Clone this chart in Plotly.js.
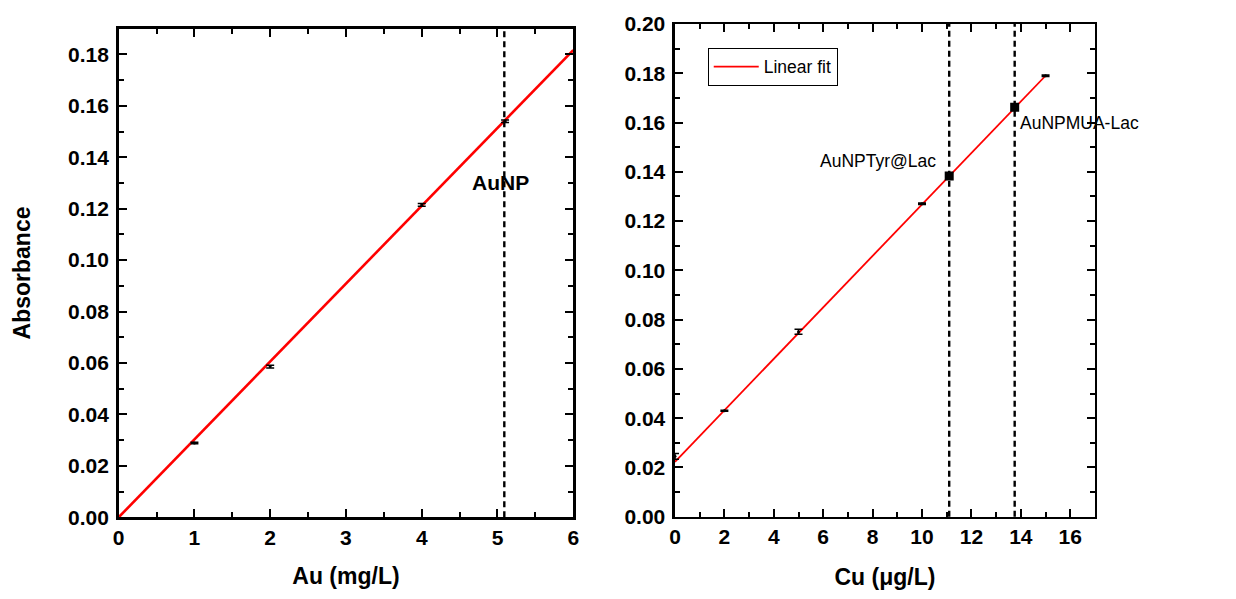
<!DOCTYPE html>
<html>
<head>
<meta charset="utf-8">
<script src="https://cdn.plot.ly/plotly-3.0.1.min.js"></script>
<style>html,body{margin:0;padding:0;background:#fff}#chart{width:1236px;height:599px}</style>
</head>
<body>
<div id="chart"></div>
<script>
// Left panel: Au calibration
const auX = [1, 2, 4, 5.1];
const auY = [0.0289, 0.0586, 0.1215, 0.1540];
const auErr = [0.0003, 0.0005, 0.0005, 0.0005];
const auFitX = [0, 6];
const auFitY = [0.0, 0.1817];
const auSampleX = 5.09;
const auLabel = 'AuNP';

// Right panel: Cu calibration
const cuX = [0, 2, 5, 10, 15];
const cuY = [0.0245, 0.0430, 0.0751, 0.1270, 0.1790];
const cuErr = [0.0012, 0.0002, 0.0010, 0.0003, 0.0003];
const cuFitX = [0, 15];
const cuFitY = [0.0223, 0.1790];
const cuSampleX = [11.1, 13.75];
const cuSampleY = [0.1383, 0.1662];
const cuSampleLabels = ['AuNPTyr@Lac', 'AuNPMUA-Lac'];

const FAM = 'Liberation Sans, Arial, sans-serif';
const tickFont = {family: FAM, size: 21, color: '#000', weight: 'bold'};
const titleFont = {family: FAM, size: 23, color: '#000', weight: 'bold'};
const plainFont = {family: FAM, size: 17.5, color: '#000'};

const traces = [
  {x: auFitX, y: auFitY, xaxis: 'x', yaxis: 'y', mode: 'lines', line: {color: '#ff0000', width: 2.6}, showlegend: false, name: 'fit'},
  {x: auX, y: auY, xaxis: 'x', yaxis: 'y', mode: 'markers', marker: {color: '#000', size: 3},
   error_y: {type: 'data', array: auErr, color: '#000', thickness: 1.5, width: 4}, showlegend: false, cliponaxis: false},
  {x: cuFitX, y: cuFitY, xaxis: 'x2', yaxis: 'y2', mode: 'lines', line: {color: '#ff0000', width: 1.8}, showlegend: true, name: 'Linear fit'},
  {x: cuX, y: cuY, xaxis: 'x2', yaxis: 'y2', mode: 'markers', marker: {color: '#000', size: 3},
   error_y: {type: 'data', array: cuErr, color: '#000', thickness: 1.5, width: 4}, showlegend: false, cliponaxis: false},
  {x: cuSampleX, y: cuSampleY, xaxis: 'x2', yaxis: 'y2', mode: 'markers', marker: {color: '#000', size: 9, symbol: 'square'}, showlegend: false}
];

const minorTicks = (d) => ({ticks: 'inside', ticklen: 5, tickwidth: 2, tickcolor: '#000', dtick: d});

function axisBase(extra) {
  return Object.assign({
    showline: true, linecolor: '#000', linewidth: 2.5, mirror: 'allticks',
    ticks: 'inside', ticklen: 8, tickwidth: 2, tickcolor: '#000',
    showgrid: false, zeroline: false, tickfont: tickFont, fixedrange: true
  }, extra);
}

const layout = {
  width: 1236, height: 599,
  margin: {l: 0, r: 0, t: 0, b: 0},
  paper_bgcolor: '#fff', plot_bgcolor: '#fff',
  xaxis: axisBase({domain: [0.0960, 0.4638], anchor: 'y', range: [0, 6], dtick: 1, tick0: 0,
    minor: minorTicks(0.5),
    title: {text: 'Au (mg/L)', font: titleFont, standoff: 20}}),
  yaxis: axisBase({domain: [0.1364, 0.9521], anchor: 'x', range: [0, 0.19], dtick: 0.02, tick0: 0, tickformat: '.2f',
    minor: minorTicks(0.01), ticklabelstandoff: 3,
    title: {text: 'Absorbance', font: titleFont, standoff: 31}}),
  xaxis2: axisBase({domain: [0.5461, 0.8859], anchor: 'y2', range: [0, 17], dtick: 2, tick0: 0,
    minor: minorTicks(1),
    title: {text: 'Cu (\u03bcg/L)', font: titleFont, standoff: 22}}),
  yaxis2: axisBase({domain: [0.1374, 0.9599], anchor: 'x2', range: [0, 0.20], dtick: 0.02, tick0: 0, tickformat: '.2f',
    minor: minorTicks(0.01), ticklabelstandoff: 3}),
  shapes: [
    {type: 'line', xref: 'x', yref: 'y domain', x0: auSampleX, x1: auSampleX, y0: 0, y1: 1, line: {color: '#000', width: 2.4, dash: '6px,4px'}},
    ...cuSampleX.map(v => ({type: 'line', xref: 'x2', yref: 'y2 domain', x0: v, x1: v, y0: 0, y1: 1, line: {color: '#000', width: 2.4, dash: '6px,4px'}}))
  ],
  annotations: [
    {xref: 'x', yref: 'y', x: auSampleX - 0.05, y: 0.130, text: auLabel, showarrow: false, font: {family: FAM, size: 21, color: '#000', weight: 'bold'}},
    {xref: 'x2', yref: 'y2', x: cuSampleX[0] - 0.45, y: 0.1445, text: cuSampleLabels[0], showarrow: false, xanchor: 'right', font: plainFont},
    {xref: 'x2', yref: 'y2', x: cuSampleX[1] + 0.15, y: 0.1599, text: cuSampleLabels[1], showarrow: false, xanchor: 'left', font: plainFont}
  ],
  legend: {x: 0.5726, y: 0.9204, xanchor: 'left', yanchor: 'top', bgcolor: '#fff', bordercolor: '#000', borderwidth: 1,
    font: plainFont, tracegroupgap: 0, itemwidth: 45}
};

Plotly.newPlot('chart', traces, layout, {staticPlot: true, displayModeBar: false});
</script>
</body>
</html>
